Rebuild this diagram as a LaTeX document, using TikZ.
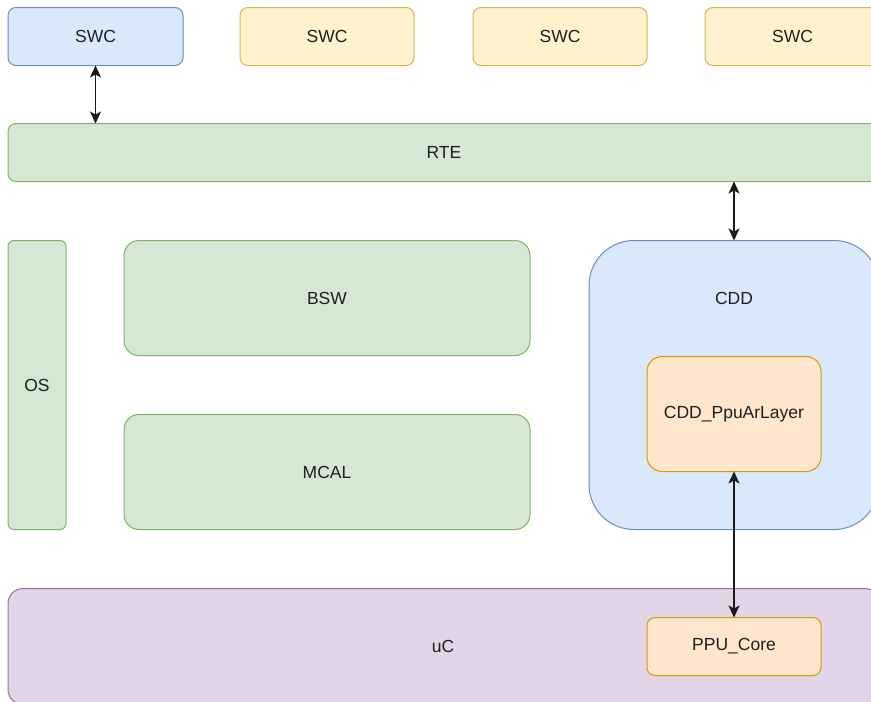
\documentclass[tikz,border=0pt]{standalone}
\usepackage{fontspec}
\setmainfont{Liberation Sans}
\usetikzlibrary{arrows.meta}
\definecolor{blueF}{HTML}{DAE8FC}\definecolor{blueS}{HTML}{6C8EBF}
\definecolor{yelF}{HTML}{FFF2CC}\definecolor{yelS}{HTML}{D6B656}
\definecolor{grnF}{HTML}{D5E8D4}\definecolor{grnS}{HTML}{82B366}
\definecolor{orgF}{HTML}{FFE6CC}\definecolor{orgS}{HTML}{D79B00}
\definecolor{purF}{HTML}{E1D5E7}\definecolor{purS}{HTML}{9673A6}
\begin{document}
\begin{tikzpicture}[x=1pt,y=-1pt,
  box/.style={draw, line width=1pt, rounded corners=8pt, inner sep=0pt, outer sep=0pt,
    font=\fontsize{17.5}{21}\selectfont, align=center, text=black!88},
  bluebox/.style={box, fill=blueF, draw=blueS},
  yelbox/.style={box, fill=yelF, draw=yelS},
  grnbox/.style={box, fill=grnF, draw=grnS},
  orgbox/.style={box, fill=orgF, draw=orgS},
  purbox/.style={box, fill=purF, draw=purS},
  lbl/.style={font=\fontsize{17.5}{21}\selectfont, text=black!88, inner sep=0pt},
  conn/.style={line width=1.5pt, black!90, >={Stealth[length=12pt,width=11pt,inset=3pt]}, <->}
]
\useasboundingbox (0,0) rectangle (871,702);
\node[bluebox, minimum width=175pt, minimum height=58pt] (swc1) at (95.5,36.5) {SWC};
\node[yelbox, minimum width=174pt, minimum height=58pt] (swc2) at (327,36.5) {SWC};
\node[yelbox, minimum width=174pt, minimum height=58pt] (swc3) at (560,36.5) {SWC};
\node[yelbox, minimum width=175pt, minimum height=58pt] (swc4) at (792.5,36.5) {SWC};
\node[grnbox, minimum width=872pt, minimum height=58pt] (rte) at (444,152.5) {RTE};
\node[grnbox, rounded corners=6pt, minimum width=58pt, minimum height=289pt] (os) at (37,385) {OS};
\node[grnbox, rounded corners=15pt, minimum width=406pt, minimum height=115pt] (bsw) at (327,298) {BSW};
\node[grnbox, rounded corners=15pt, minimum width=406pt, minimum height=115pt] (mcal) at (327,472) {MCAL};
\node[bluebox, rounded corners=45pt, minimum width=290pt, minimum height=289pt] (cdd) at (734,385) {};
\node[lbl] (cddlbl) at (734,298) {CDD};
\node[orgbox, rounded corners=15pt, minimum width=174pt, minimum height=115pt] (ppuar) at (734,414) {CDD\_PpuArLayer};
\node[purbox, rounded corners=15pt, minimum width=872pt, minimum height=116pt] (uc) at (444,646.5) {};
\node[lbl] (uclbl) at (443,646.5) {uC};
\node[orgbox, minimum width=174pt, minimum height=58pt] (ppucore) at (734,646.5) {PPU\_Core};
\draw[conn] (swc1.south) -- (swc1.south |- rte.north);
\draw[conn] (cdd.north |- rte.south) -- (cdd.north);
\draw[conn] (ppuar.south) -- (ppucore.north);
\end{tikzpicture}
\end{document}
